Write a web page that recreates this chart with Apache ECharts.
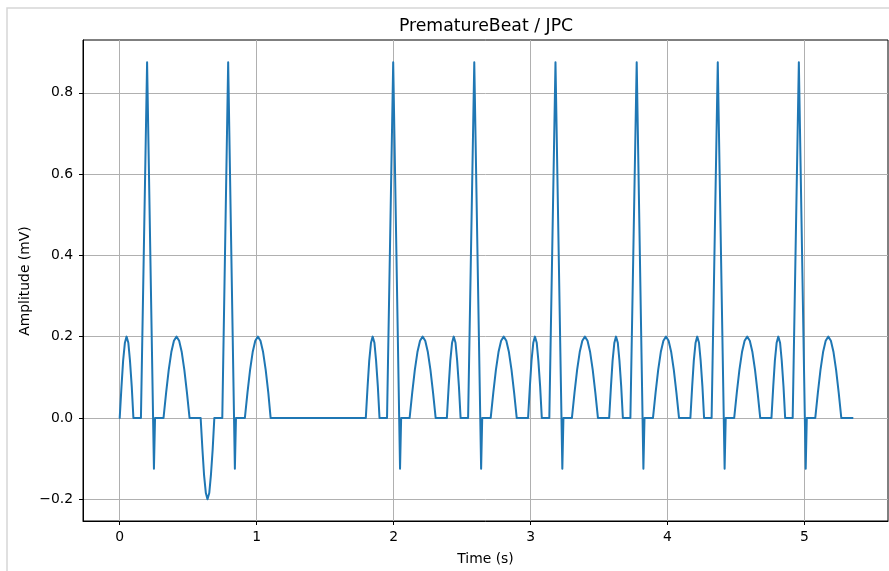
<!DOCTYPE html>
<html>
<head>
<meta charset="utf-8">
<script src="https://cdn.jsdelivr.net/npm/echarts@6/dist/echarts.min.js"></script>
<style>
html,body{margin:0;padding:0;background:#fff;}
#chart{width:889px;height:571px;}
</style>
</head>
<body>
<div id="chart"></div>
<script>
// ---- data (time in s, amplitude in mV) ----
const titleText = "PrematureBeat / JPC";
const xName = "Time (s)";
const yName = "Amplitude (mV)";
const xTicks = [0, 1, 2, 3, 4, 5];
const yTicks = [-0.2, 0.0, 0.2, 0.4, 0.6, 0.8];

const beat1 = [[0,0],[0.013,0.077],[0.025,0.141],[0.038,0.185],[0.05,0.2],[0.063,0.185],[0.075,0.141],[0.088,0.077],[0.1,0],
  [0.155,0],[0.2,0.875],[0.25,-0.125],[0.258,0],[0.32,0],
  [0.339,0.062],[0.358,0.118],[0.377,0.162],[0.396,0.19],[0.415,0.2],[0.434,0.19],[0.453,0.162],[0.472,0.118],[0.491,0.062],[0.51,0]];
const beat2 = [[0.591,0],[0.604,-0.077],[0.616,-0.141],[0.629,-0.185],[0.641,-0.2],[0.654,-0.185],[0.666,-0.141],[0.679,-0.077],[0.691,0],
  [0.749,0],[0.792,0.875],[0.841,-0.125],[0.849,0],[0.914,0],
  [0.933,0.062],[0.952,0.118],[0.971,0.162],[0.99,0.19],[1.009,0.2],[1.028,0.19],[1.047,0.162],[1.066,0.118],[1.085,0.062],[1.102,0]];
const beat3 = [[1.797,0],[1.81,0.077],[1.822,0.141],[1.835,0.185],[1.847,0.2],[1.86,0.185],[1.872,0.141],[1.885,0.077],[1.897,0],
  [1.952,0],[1.997,0.875],[2.047,-0.125],[2.055,0],[2.117,0],
  [2.136,0.062],[2.155,0.118],[2.174,0.162],[2.193,0.19],[2.212,0.2],[2.231,0.19],[2.25,0.162],[2.269,0.118],[2.288,0.062],[2.307,0]];
const beat4 = [[2.389,0],[2.402,0.077],[2.414,0.141],[2.427,0.185],[2.439,0.2],[2.452,0.185],[2.464,0.141],[2.477,0.077],[2.489,0],
  [2.544,0],[2.589,0.875],[2.639,-0.125],[2.647,0],[2.709,0],
  [2.728,0.062],[2.747,0.118],[2.766,0.162],[2.785,0.19],[2.804,0.2],[2.823,0.19],[2.842,0.162],[2.861,0.118],[2.88,0.062],[2.899,0]];
const beat5 = [[2.982,0],[2.995,0.077],[3.007,0.141],[3.02,0.185],[3.032,0.2],[3.045,0.185],[3.057,0.141],[3.07,0.077],[3.082,0],
  [3.137,0],[3.182,0.875],[3.232,-0.125],[3.24,0],[3.302,0],
  [3.321,0.062],[3.34,0.118],[3.359,0.162],[3.378,0.19],[3.397,0.2],[3.416,0.19],[3.435,0.162],[3.454,0.118],[3.473,0.062],[3.492,0]];
const beat6 = [[3.574,0],[3.587,0.077],[3.599,0.141],[3.612,0.185],[3.624,0.2],[3.637,0.185],[3.649,0.141],[3.662,0.077],[3.674,0],
  [3.729,0],[3.775,0.875],[3.824,-0.125],[3.832,0],[3.894,0],
  [3.913,0.062],[3.932,0.118],[3.951,0.162],[3.97,0.19],[3.989,0.2],[4.008,0.19],[4.027,0.162],[4.046,0.118],[4.065,0.062],[4.084,0]];
const beat7 = [[4.167,0],[4.18,0.077],[4.192,0.141],[4.205,0.185],[4.217,0.2],[4.23,0.185],[4.242,0.141],[4.255,0.077],[4.267,0],
  [4.322,0],[4.367,0.875],[4.417,-0.125],[4.425,0],[4.487,0],
  [4.506,0.062],[4.525,0.118],[4.544,0.162],[4.563,0.19],[4.582,0.2],[4.601,0.19],[4.62,0.162],[4.639,0.118],[4.658,0.062],[4.677,0]];
const beat8 = [[4.759,0],[4.772,0.077],[4.784,0.141],[4.797,0.185],[4.809,0.2],[4.822,0.185],[4.834,0.141],[4.847,0.077],[4.859,0],
  [4.914,0],[4.959,0.875],[5.009,-0.125],[5.017,0],[5.079,0],
  [5.098,0.062],[5.117,0.118],[5.136,0.162],[5.155,0.19],[5.174,0.2],[5.193,0.19],[5.212,0.162],[5.231,0.118],[5.25,0.062],[5.269,0]];
const tail = [[5.351,0]];

const signal = [].concat(beat1, beat2, beat3, beat4, beat5, beat6, beat7, beat8, tail);

// ---- chart ----
const FONT = 'DejaVu Sans';
const chart = echarts.init(document.getElementById('chart'), null, {renderer: 'canvas'});

function fmtY(v) {
  const s = Math.abs(v).toFixed(1);
  return v < -1e-9 ? '\u2212' + s : s;
}

chart.setOption({
  animation: false,
  backgroundColor: '#ffffff',
  graphic: [{
    type: 'rect', left: 4.5, top: 5.5, z: -10, silent: true,
    shape: {x: 0, y: 0, width: 1000, height: 1000},
    style: {fill: 'none', stroke: '#d6d6d6', lineWidth: 1.5}
  }, {
    type: 'text', x: 486, y: 27, silent: true,
    style: {text: titleText, x: 0, y: 0, align: 'center', verticalAlign: 'middle',
      font: 'normal 17.3px "DejaVu Sans"', fill: '#000'}
  }, {
    type: 'text', x: 25, y: 281, rotation: Math.PI / 2, silent: true,
    style: {text: yName, x: 0, y: 0, align: 'center', verticalAlign: 'middle',
      font: 'normal 13.9px "DejaVu Sans"', fill: '#000'}
  }],
  grid: {
    left: 83, top: 40, right: 1, bottom: 49.5,
    show: true, borderColor: '#000', borderWidth: 1, backgroundColor: 'transparent'
  },
  xAxis: {
    type: 'value',
    min: -0.268, max: 5.61,
    name: xName, nameLocation: 'middle', nameGap: 31,
    nameTextStyle: {fontFamily: FONT, fontSize: 13.9, color: '#000'},
    axisLine: {show: true, onZero: false, lineStyle: {color: '#000', width: 1}},
    axisTick: {show: true, inside: false, length: 4, lineStyle: {color: '#000', width: 1}, customValues: xTicks},
    axisLabel: {customValues: xTicks, margin: 9, fontFamily: FONT, fontSize: 13.9, color: '#000',
      formatter: v => String(Math.round(v))},
    splitLine: {show: true, lineStyle: {color: '#b0b0b0', width: 1}}
  },
  yAxis: {
    type: 'value',
    min: -0.2537, max: 0.9299,
    axisLine: {show: true, onZero: false, lineStyle: {color: '#000', width: 1}},
    axisTick: {show: true, inside: false, length: 4, lineStyle: {color: '#000', width: 1}, customValues: yTicks},
    axisLabel: {customValues: yTicks, margin: 10, fontFamily: FONT, fontSize: 13.9, color: '#000', formatter: fmtY},
    splitLine: {show: true, lineStyle: {color: '#b0b0b0', width: 1}}
  },
  series: [{
    type: 'line',
    data: signal,
    showSymbol: false,
    symbol: 'none',
    lineStyle: {color: '#1f77b4', width: 2, join: 'round', cap: 'round'},
    z: 5
  }]
});
</script>
</body>
</html>
